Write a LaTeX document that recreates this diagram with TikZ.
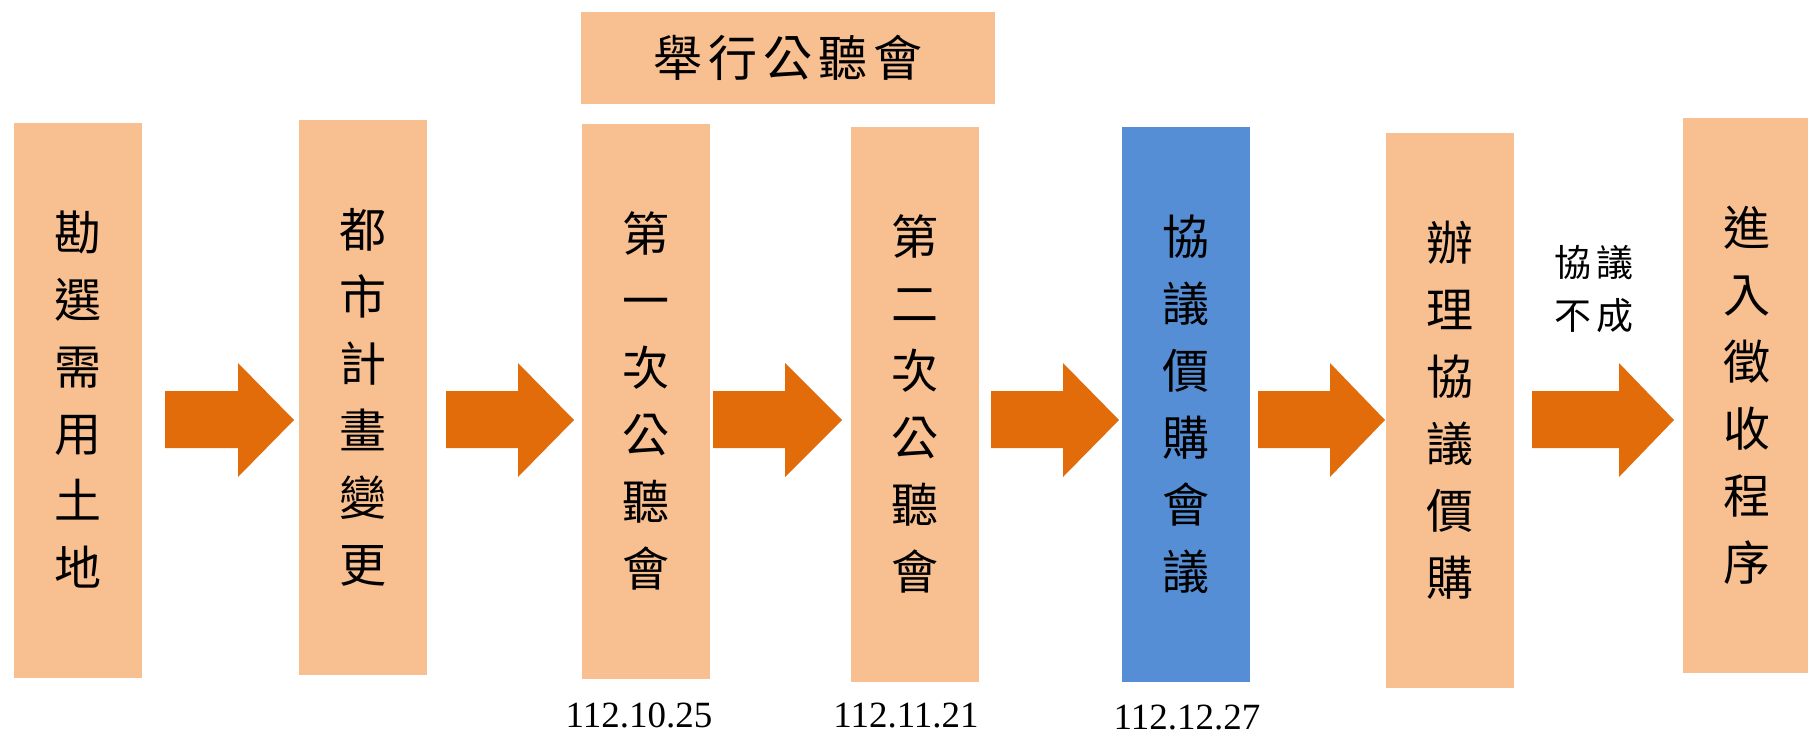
\documentclass[tikz,border=0pt]{standalone}
\usepackage{fontspec}
\setmainfont{Liberation Serif}
\newfontfamily\cjk{Noto Sans CJK TC}
\newfontfamily\cjkwide[LetterSpace=12]{Noto Sans CJK TC}
\definecolor{peach}{RGB}{248,191,144}
\definecolor{meetblue}{RGB}{85,142,213}
\definecolor{flowarrow}{RGB}{227,108,10}
\begin{document}
\begin{tikzpicture}[x=1pt,y=-1pt,
	stepbox/.style={fill=peach, inner sep=0pt, minimum width=128pt, minimum height=555pt, align=center, font=\cjk\fontsize{47}{67}\selectfont},
	datelabel/.style={anchor=base, font=\fontsize{37}{40}\selectfont}]
	\useasboundingbox (0,0) rectangle (1808,734);
	
	\node[stepbox] (land) at (78,400) {勘\\選\\需\\用\\土\\地};
	\node[stepbox] (plan) at (363,397) {都\\市\\計\\畫\\變\\更};
	\node[stepbox] (hear1) at (646,401) {第\\一\\次\\公\\聽\\會};
	\node[stepbox] (hear2) at (915,404) {第\\二\\次\\公\\聽\\會};
	\node[stepbox, fill=meetblue] (meet) at (1186,404) {協\\議\\價\\購\\會\\議};
	\node[stepbox] (buy) at (1450,410) {辦\\理\\協\\議\\價\\購};
	\node[stepbox] (expro) at (1747,395) {進\\入\\徵\\收\\程\\序};
	
	\node[fill=peach, inner sep=0pt, minimum width=414pt, minimum height=92pt, font=\cjkwide\fontsize{49}{55}\selectfont] (hold) at (788,58) {舉行公聽會};
	
	\node[align=center, font=\cjkwide\fontsize{37}{53}\selectfont] (fail) at (1594,289) {協議\\不成};
	
	\node[datelabel] (d1) at (639,727) {112.10.25};
	\node[datelabel] (d2) at (906,727) {112.11.21};
	\node[datelabel] (d3) at (1187,729) {112.12.27};
	
	% block arrows
	\foreach \s/\n/\t in {165/238/294, 446/518/574, 713/785/842, 991/1063/1119, 1258/1330/1385, 1532/1619/1674}
		\fill[flowarrow] (\s,391) -- (\n,391) -- (\n,363) -- (\t,420) -- (\n,477) -- (\n,448) -- (\s,448) -- cycle;
\end{tikzpicture}
\end{document}
